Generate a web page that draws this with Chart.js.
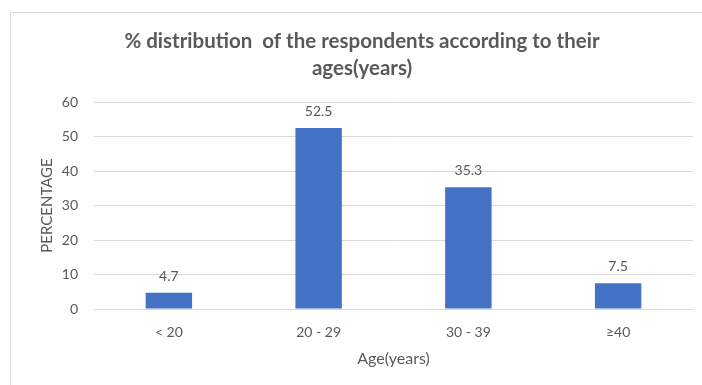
<!DOCTYPE html>
<html>
<head>
<meta charset="utf-8">
<script src="https://cdn.jsdelivr.net/npm/chart.js@4.4.1/dist/chart.umd.min.js"></script>
<style>
  html, body { margin: 0; padding: 0; background: #ffffff; }
  #wrap { position: relative; width: 702px; height: 385px; overflow: hidden; }
  #frame { position: absolute; left: 10px; top: 12px; width: 720px; height: 400px;
           border: 1px solid #d9d9d9; box-sizing: border-box; }
  #c { position: absolute; left: 0; top: 0; }
</style>
</head>
<body>
<div id="wrap">
  <div id="frame"></div>
  <canvas id="c" width="702" height="385"></canvas>
</div>
<script>
// Age groups and the share of respondents in each (%)
const categories = ['< 20', '20 - 29', '30 - 39', '\u226540'];
const percentages = [4.7, 52.5, 35.3, 7.5];
const yTickValues = [0, 10, 20, 30, 40, 50, 60];
const titleLines = ['% distribution  of the respondents according to their', 'ages(years)'];
const xAxisTitle = 'Age(years)';
const yAxisTitle = 'PERCENTAGE';

const FONT = 'Lato, "Open Sans", sans-serif';
const TEXT = '#595959';
const GRID = '#d9d9d9';
const BAR = '#4472c4';

// Two-line bold heading above the plot
const headingPlugin = {
  id: 'heading',
  afterDraw(chart) {
    const ctx = chart.ctx;
    ctx.save();
    ctx.fillStyle = TEXT;
    ctx.font = 'bold 20.5px ' + FONT;
    ctx.textAlign = 'center';
    ctx.textBaseline = 'middle';
    titleLines.forEach((line, i) => ctx.fillText(line, 362, 41 + i * 27));
    ctx.restore();
  }
};

// Value labels placed above each bar
const valueLabels = {
  id: 'valueLabels',
  afterDatasetsDraw(chart) {
    const ctx = chart.ctx;
    ctx.save();
    ctx.fillStyle = TEXT;
    ctx.font = '14px ' + FONT;
    ctx.textAlign = 'center';
    ctx.textBaseline = 'middle';
    chart.data.datasets.forEach((ds, di) => {
      chart.getDatasetMeta(di).data.forEach((bar, i) => {
        ctx.fillText(ds.data[i].toFixed(1), bar.x, bar.y - 16.5);
      });
    });
    ctx.restore();
  }
};

new Chart(document.getElementById('c'), {
  type: 'bar',
  data: {
    labels: categories,
    datasets: [{
      data: percentages,
      backgroundColor: BAR,
      borderWidth: 0,
      barPercentage: 0.31,
      categoryPercentage: 1
    }]
  },
  options: {
    responsive: false,
    animation: false,
    devicePixelRatio: 1,
    layout: { padding: { left: 0, right: 9, top: 102, bottom: 0 } },
    plugins: { legend: { display: false }, tooltip: { enabled: false }, title: { display: false } },
    scales: {
      x: {
        grid: { display: false, drawTicks: false },
        border: { display: false },
        ticks: { color: TEXT, font: { family: FONT, size: 14 }, padding: 15, maxRotation: 0 },
        title: { display: true, text: xAxisTitle, color: TEXT,
                 font: { family: FONT, size: 16 }, padding: { top: 0, bottom: 17 } },
        afterFit(scale) { scale.height = 76; }
      },
      y: {
        min: 0,
        max: 60,
        afterBuildTicks(scale) { scale.ticks = yTickValues.map(v => ({ value: v })); },
        grid: { color: GRID, lineWidth: 1, drawTicks: false },
        border: { display: false },
        ticks: { color: TEXT, font: { family: FONT, size: 14 }, padding: 16 },
        title: { display: true, text: yAxisTitle, color: TEXT,
                 font: { family: FONT, size: 15 }, padding: { top: 38, bottom: 0 } },
        afterFit(scale) { scale.width = 94; }
      }
    }
  },
  plugins: [headingPlugin, valueLabels]
});
</script>
</body>
</html>
